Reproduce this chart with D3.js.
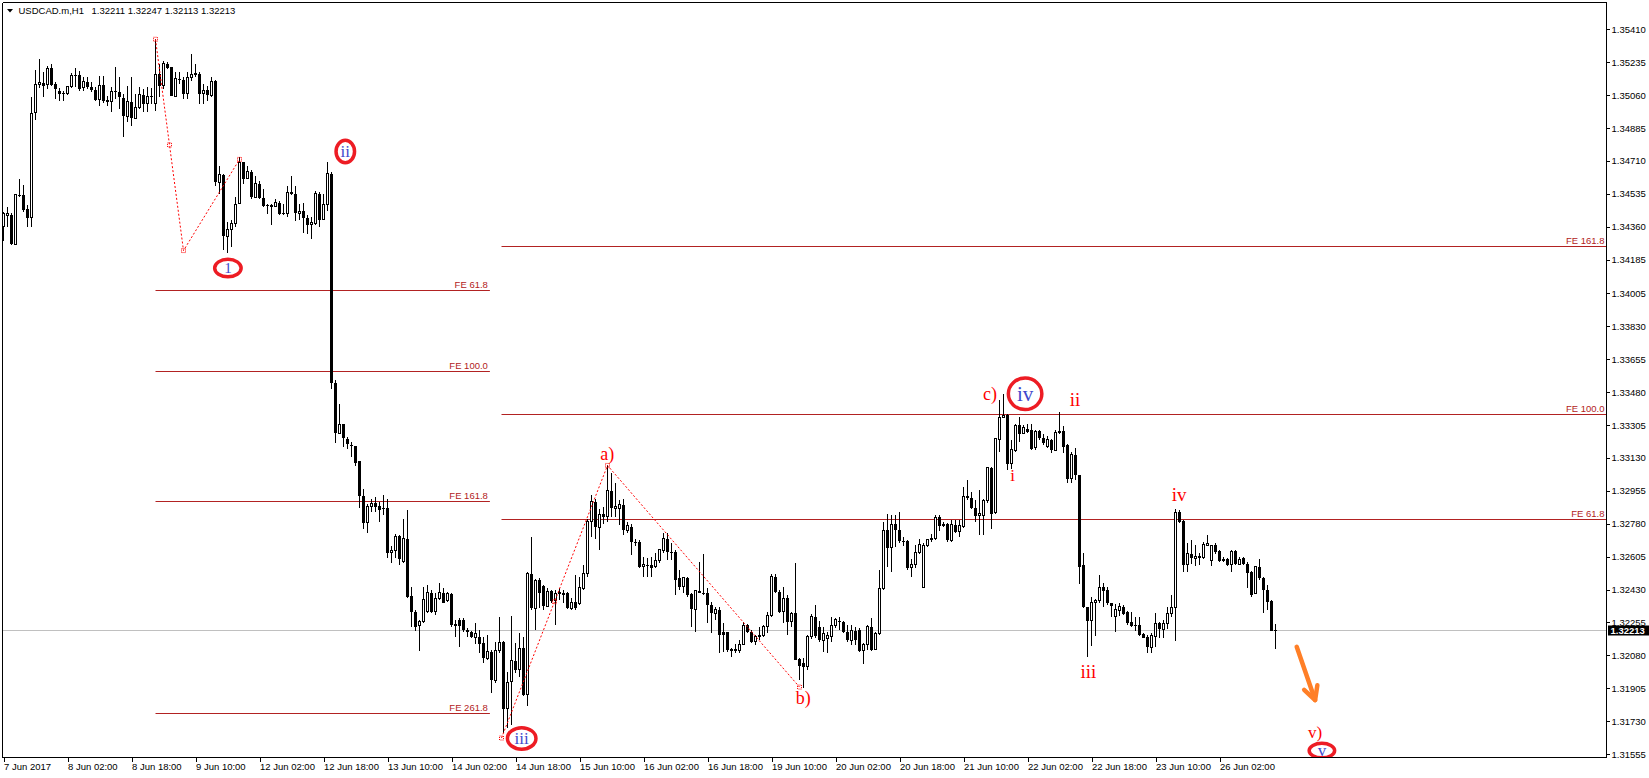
<!DOCTYPE html>
<html><head><meta charset="utf-8">
<script src="https://cdn.jsdelivr.net/npm/d3@7"></script>
<style>
body{margin:0;background:#fff;}
</style>
</head><body>
<svg id="chart" width="1649" height="778"></svg>
<script>
// ---------------- DATA ----------------
const symbolName = "USDCAD.m,H1";
const xTickIndex = [0,16,32,48,64,80,96,112,128,144,160,176,192,208,224,240,256,272,288,304];
const xTickLabels = ["7 Jun 2017","8 Jun 02:00","8 Jun 18:00","9 Jun 10:00","12 Jun 02:00","12 Jun 18:00","13 Jun 10:00","14 Jun 02:00","14 Jun 18:00","15 Jun 10:00","16 Jun 02:00","16 Jun 18:00","19 Jun 10:00","20 Jun 02:00","20 Jun 18:00","21 Jun 10:00","22 Jun 02:00","22 Jun 18:00","23 Jun 10:00","26 Jun 02:00"];
const yTickLabels = ["1.35410","1.35235","1.35060","1.34885","1.34710","1.34535","1.34360","1.34185","1.34005","1.33830","1.33655","1.33480","1.33305","1.33130","1.32955","1.32780","1.32605","1.32430","1.32255","1.32080","1.31905","1.31730","1.31555"];

const opens = [
1.34359,1.34420,1.34423,1.34264,1.34529,1.34526,1.34455,1.34407,1.34965,1.35119,
1.35124,1.35119,1.35204,1.35119,1.35083,1.35069,1.35066,1.35105,1.35166,1.35166,
1.35101,1.35131,1.35105,1.35087,1.35034,1.35115,1.35027,1.35027,1.35080,1.35078,
1.35044,1.34947,1.35025,1.34938,1.34995,1.35060,1.35013,1.35053,1.35013,1.35172,
1.35110,1.35228,1.35207,1.35053,1.35145,1.35140,1.35066,1.35151,1.35172,1.35172,
1.35066,1.35087,1.35060,1.35137,1.34597,1.34636,1.34310,1.34344,1.34375,1.34485,
1.34703,1.34618,1.34653,1.34517,1.34588,1.34513,1.34473,1.34469,1.34469,1.34487,
1.34432,1.34432,1.34543,1.34535,1.34432,1.34446,1.34407,1.34370,1.34375,1.34535,
1.34397,1.34476,1.34641,1.33528,1.33259,1.33309,1.33229,1.33198,1.33192,1.33114,
1.32927,1.32785,1.32870,1.32888,1.32874,1.32865,1.32861,1.32625,1.32640,1.32713,
1.32577,1.32701,1.32395,1.32312,1.32238,1.32259,1.32312,1.32414,1.32312,1.32383,
1.32413,1.32374,1.32404,1.32241,1.32268,1.32268,1.32215,1.32206,1.32175,1.32179,
1.32144,1.32064,1.32099,1.31946,1.32105,1.32149,1.31797,1.31940,1.32050,1.32002,
1.32117,1.31869,1.32515,1.32330,1.32480,1.32448,1.32342,1.32422,1.32370,1.32409,
1.32404,1.32413,1.32330,1.32361,1.32356,1.32436,1.32515,1.32790,1.32896,1.32760,
1.32830,1.32816,1.32953,1.32861,1.32861,1.32878,1.32746,1.32763,1.32684,1.32684,
1.32551,1.32560,1.32560,1.32551,1.32586,1.32639,1.32701,1.32630,1.32630,1.32489,
1.32445,1.32492,1.32404,1.32324,1.32420,1.32413,1.32413,1.32347,1.32303,1.32321,
1.32206,1.32202,1.32112,1.32105,1.32108,1.32140,1.32241,1.32206,1.32152,1.32179,
1.32183,1.32232,1.32294,1.32498,1.32418,1.32312,1.32383,1.32259,1.32303,1.32059,
1.32040,1.32020,1.32179,1.32285,1.32230,1.32161,1.32170,1.32182,1.32236,1.32264,
1.32259,1.32206,1.32161,1.32211,1.32214,1.32105,1.32135,1.32232,1.32112,1.32197,
1.32436,1.32745,1.32653,1.32781,1.32749,1.32687,1.32687,1.32547,1.32565,1.32625,
1.32441,1.32662,1.32698,1.32701,1.32816,1.32772,1.32781,1.32692,1.32772,1.32736,
1.32763,1.32926,1.32919,1.32866,1.32825,1.32825,1.32905,1.33078,1.32837,1.33227,
1.33347,1.33356,1.33099,1.33170,1.33306,1.33259,1.33285,1.33276,1.33184,1.33273,
1.33237,1.33191,1.33227,1.33170,1.33267,1.33271,1.33197,1.33020,1.33147,1.33037,
1.32560,1.32335,1.32264,1.32361,1.32370,1.32441,1.32427,1.32356,1.32285,1.32317,
1.32338,1.32312,1.32255,1.32237,1.32241,1.32192,1.32178,1.32122,1.32182,1.32250,
1.32218,1.32250,1.32303,1.32335,1.32843,1.32793,1.32563,1.32621,1.32595,1.32607,
1.32598,1.32666,1.32583,1.32669,1.32634,1.32583,1.32590,1.32563,1.32634,1.32565,
1.32595,1.32565,1.32524,1.32409,1.32551,1.32489,1.32430,1.32370,1.32211];

const highs = [
1.34437,1.34464,1.34432,1.34535,1.34614,1.34584,1.34473,1.35052,1.35193,1.35252,
1.35181,1.35213,1.35225,1.35128,1.35098,1.35083,1.35110,1.35175,1.35204,1.35186,
1.35154,1.35154,1.35128,1.35101,1.35163,1.35163,1.35057,1.35101,1.35211,1.35154,
1.35066,1.35110,1.35154,1.35066,1.35101,1.35092,1.35101,1.35098,1.35358,1.35225,
1.35239,1.35234,1.35211,1.35181,1.35181,1.35154,1.35181,1.35278,1.35225,1.35181,
1.35119,1.35110,1.35154,1.35142,1.34685,1.34641,1.34387,1.34393,1.34517,1.34729,
1.34706,1.34685,1.34660,1.34632,1.34605,1.34560,1.34482,1.34482,1.34508,1.34499,
1.34482,1.34574,1.34632,1.34579,1.34482,1.34485,1.34420,1.34411,1.34552,1.34543,
1.34535,1.34703,1.34650,1.33543,1.33415,1.33313,1.33242,1.33215,1.33195,1.33114,
1.32967,1.32884,1.32909,1.32923,1.32897,1.32932,1.32909,1.32660,1.32725,1.32720,
1.32807,1.32855,1.32445,1.32321,1.32268,1.32445,1.32453,1.32427,1.32409,1.32462,
1.32436,1.32418,1.32409,1.32268,1.32276,1.32276,1.32223,1.32211,1.32253,1.32215,
1.32179,1.32188,1.32108,1.32152,1.32285,1.32156,1.31993,1.32289,1.32144,1.32197,
1.32179,1.32524,1.32710,1.32484,1.32489,1.32453,1.32436,1.32427,1.32427,1.32436,
1.32427,1.32416,1.32383,1.32507,1.32498,1.32560,1.32807,1.32932,1.32914,1.32860,
1.32870,1.33091,1.33050,1.32994,1.32905,1.32914,1.32790,1.32780,1.32700,1.32692,
1.32604,1.32595,1.32604,1.32622,1.32643,1.32728,1.32728,1.32675,1.32639,1.32533,
1.32498,1.32498,1.32409,1.32427,1.32577,1.32618,1.32436,1.32365,1.32338,1.32338,
1.32250,1.32206,1.32117,1.32140,1.32161,1.32259,1.32245,1.32215,1.32188,1.32232,
1.32241,1.32312,1.32515,1.32515,1.32427,1.32445,1.32400,1.32312,1.32569,1.32064,
1.32064,1.32188,1.32300,1.32347,1.32260,1.32232,1.32206,1.32285,1.32276,1.32282,
1.32264,1.32241,1.32241,1.32232,1.32223,1.32143,1.32241,1.32276,1.32206,1.32533,
1.32790,1.32834,1.32825,1.32825,1.32843,1.32710,1.32692,1.32590,1.32666,1.32701,
1.32675,1.32701,1.32724,1.32825,1.32825,1.32790,1.32784,1.32798,1.32802,1.32798,
1.32975,1.33011,1.32949,1.32905,1.32958,1.32913,1.33082,1.33082,1.33237,1.33436,
1.33471,1.33365,1.33223,1.33312,1.33347,1.33303,1.33312,1.33312,1.33276,1.33276,
1.33259,1.33244,1.33232,1.33276,1.33374,1.33298,1.33206,1.33161,1.33184,1.33040,
1.32625,1.32338,1.32388,1.32382,1.32506,1.32466,1.32441,1.32359,1.32352,1.32356,
1.32347,1.32317,1.32312,1.32285,1.32285,1.32200,1.32188,1.32200,1.32303,1.32259,
1.32268,1.32338,1.32400,1.32860,1.32855,1.32798,1.32678,1.32692,1.32666,1.32625,
1.32683,1.32719,1.32666,1.32675,1.32639,1.32604,1.32595,1.32639,1.32639,1.32604,
1.32604,1.32577,1.32530,1.32554,1.32590,1.32498,1.32453,1.32374,1.32247];

const lows = [
1.34283,1.34359,1.34260,1.34260,1.34517,1.34437,1.34359,1.34361,1.34928,1.35098,
1.35048,1.35092,1.35110,1.35039,1.35030,1.35030,1.35062,1.35098,1.35101,1.35083,
1.35083,1.35092,1.35075,1.35030,1.35004,1.35016,1.35004,1.34968,1.35039,1.34986,
1.34839,1.34915,1.34898,1.34933,1.34986,1.34968,1.34968,1.35013,1.34974,1.35048,
1.35092,1.35198,1.35053,1.35048,1.35119,1.35039,1.35039,1.35137,1.35154,1.35013,
1.35013,1.35030,1.35052,1.34579,1.34535,1.34237,1.34220,1.34252,1.34359,1.34482,
1.34588,1.34614,1.34508,1.34513,1.34508,1.34464,1.34425,1.34370,1.34464,1.34420,
1.34423,1.34411,1.34526,1.34390,1.34393,1.34326,1.34323,1.34296,1.34367,1.34359,
1.34393,1.34446,1.33494,1.33210,1.33256,1.33189,1.33175,1.33136,1.33086,1.32861,
1.32750,1.32732,1.32844,1.32844,1.32791,1.32826,1.32600,1.32570,1.32600,1.32560,
1.32569,1.32385,1.32232,1.32211,1.32105,1.32250,1.32303,1.32303,1.32294,1.32374,
1.32356,1.32365,1.32232,1.32179,1.32126,1.32206,1.32179,1.32170,1.32140,1.32091,
1.32041,1.32055,1.31882,1.31931,1.32091,1.31666,1.31692,1.31710,1.31985,1.31967,
1.31861,1.31811,1.32321,1.32215,1.32330,1.32321,1.32338,1.32356,1.32241,1.32374,
1.32356,1.32324,1.32321,1.32321,1.32347,1.32427,1.32498,1.32710,1.32700,1.32640,
1.32780,1.32790,1.32817,1.32817,1.32772,1.32720,1.32730,1.32613,1.32660,1.32542,
1.32498,1.32498,1.32498,1.32542,1.32569,1.32622,1.32586,1.32586,1.32400,1.32427,
1.32409,1.32392,1.32232,1.32206,1.32409,1.32400,1.32250,1.32197,1.32268,1.32091,
1.32099,1.32099,1.32073,1.32090,1.32091,1.32135,1.32197,1.32144,1.32135,1.32161,
1.32179,1.32197,1.32285,1.32409,1.32303,1.32250,1.32188,1.32232,1.32055,1.31949,
1.31905,1.32002,1.32165,1.32170,1.32150,1.32100,1.32094,1.32152,1.32223,1.32214,
1.32197,1.32152,1.32135,1.32135,1.32100,1.32034,1.32108,1.32105,1.32108,1.32188,
1.32430,1.32551,1.32524,1.32657,1.32678,1.32660,1.32533,1.32494,1.32547,1.32621,
1.32436,1.32657,1.32683,1.32692,1.32742,1.32760,1.32683,1.32683,1.32728,1.32710,
1.32759,1.32905,1.32860,1.32790,1.32719,1.32719,1.32890,1.32754,1.32834,1.33161,
1.33344,1.33064,1.33073,1.33161,1.33214,1.33255,1.33262,1.33170,1.33170,1.33223,
1.33197,1.33184,1.33156,1.33167,1.33255,1.33156,1.32997,1.32997,1.33011,1.32459,
1.32329,1.32073,1.32129,1.32182,1.32356,1.32335,1.32350,1.32285,1.32206,1.32289,
1.32294,1.32241,1.32232,1.32211,1.32182,1.32170,1.32094,1.32094,1.32122,1.32170,
1.32174,1.32218,1.32285,1.32158,1.32786,1.32524,1.32524,1.32565,1.32554,1.32560,
1.32590,1.32662,1.32556,1.32618,1.32577,1.32574,1.32556,1.32524,1.32560,1.32560,
1.32560,1.32436,1.32391,1.32405,1.32480,1.32306,1.32321,1.32211,1.32113];

const closes = [
1.34432,1.34429,1.34269,1.34531,1.34522,1.34451,1.34407,1.34963,1.35119,1.35128,
1.35108,1.35204,1.35115,1.35092,1.35066,1.35066,1.35105,1.35166,1.35160,1.35092,
1.35133,1.35101,1.35087,1.35034,1.35113,1.35027,1.35030,1.35080,1.35075,1.35048,
1.34947,1.35025,1.34938,1.34995,1.35062,1.35013,1.35053,1.35048,1.35168,1.35110,
1.35230,1.35204,1.35053,1.35149,1.35140,1.35066,1.35151,1.35172,1.35175,1.35066,
1.35087,1.35060,1.35131,1.34597,1.34636,1.34310,1.34344,1.34379,1.34476,1.34699,
1.34614,1.34653,1.34517,1.34588,1.34513,1.34469,1.34469,1.34471,1.34487,1.34429,
1.34430,1.34543,1.34535,1.34432,1.34443,1.34407,1.34367,1.34384,1.34535,1.34393,
1.34476,1.34641,1.33531,1.33263,1.33309,1.33238,1.33206,1.33192,1.33104,1.32927,
1.32785,1.32874,1.32888,1.32867,1.32853,1.32861,1.32625,1.32640,1.32713,1.32590,
1.32701,1.32392,1.32312,1.32232,1.32259,1.32379,1.32414,1.32308,1.32383,1.32414,
1.32360,1.32409,1.32241,1.32245,1.32238,1.32215,1.32206,1.32175,1.32197,1.32140,
1.32064,1.32099,1.31949,1.32105,1.32149,1.31797,1.31935,1.32050,1.32002,1.32117,
1.31869,1.32515,1.32330,1.32480,1.32409,1.32342,1.32422,1.32370,1.32409,1.32416,
1.32409,1.32330,1.32361,1.32330,1.32441,1.32515,1.32790,1.32896,1.32760,1.32830,
1.32817,1.32958,1.32861,1.32870,1.32884,1.32746,1.32768,1.32684,1.32680,1.32551,
1.32563,1.32556,1.32547,1.32586,1.32643,1.32701,1.32630,1.32625,1.32480,1.32445,
1.32492,1.32400,1.32324,1.32427,1.32413,1.32410,1.32347,1.32303,1.32321,1.32188,
1.32188,1.32108,1.32105,1.32112,1.32140,1.32241,1.32206,1.32152,1.32179,1.32188,
1.32232,1.32294,1.32498,1.32418,1.32312,1.32383,1.32259,1.32303,1.32055,1.32023,
1.32020,1.32179,1.32285,1.32183,1.32161,1.32197,1.32188,1.32241,1.32268,1.32259,
1.32206,1.32161,1.32211,1.32161,1.32105,1.32140,1.32232,1.32108,1.32197,1.32436,
1.32745,1.32653,1.32775,1.32745,1.32687,1.32683,1.32547,1.32565,1.32625,1.32671,
1.32666,1.32698,1.32701,1.32813,1.32768,1.32777,1.32692,1.32777,1.32736,1.32768,
1.32926,1.32919,1.32866,1.32820,1.32834,1.32905,1.33078,1.32830,1.33232,1.33347,
1.33356,1.33099,1.33174,1.33303,1.33259,1.33294,1.33267,1.33179,1.33273,1.33237,
1.33209,1.33227,1.33170,1.33267,1.33271,1.33188,1.33020,1.33147,1.33037,1.32551,
1.32335,1.32264,1.32361,1.32374,1.32441,1.32423,1.32356,1.32343,1.32326,1.32338,
1.32298,1.32253,1.32237,1.32241,1.32188,1.32174,1.32122,1.32188,1.32250,1.32218,
1.32250,1.32303,1.32335,1.32837,1.32790,1.32563,1.32621,1.32595,1.32604,1.32598,
1.32669,1.32675,1.32662,1.32630,1.32583,1.32590,1.32563,1.32634,1.32565,1.32591,
1.32565,1.32519,1.32400,1.32551,1.32489,1.32430,1.32365,1.32211,1.32213];

// Fibonacci expansion tools: anchor points [bar index, price]
const feRatios = [61.8, 100, 161.8, 261.8];
const feLeftAnchors  = [[38, 1.35357], [45, 1.34233], [59, 1.34718]];
const feLeftEnd = 121.6;
const feRightAnchors = [[124.5, 1.31640], [151, 1.33090], [199, 1.31911]];

// Elliott wave labels (bar index, price)
const circledTags  = ["1", "ii", "iii", "iv", "v"];
const circledIndex = [56.1, 85.45, 129.55, 255.4, 329.6];
const circledPrice = [1.34140, 1.34760, 1.31638, 1.33471, 1.31573];

const redTags  = ["a)", "b)", "c)", "i", "ii", "iii", "iv", "v)"];
const redIndex = [150.95, 199.95, 246.6, 252.3, 267.9, 271.2, 293.9, 327.9];
const redPrice = [1.33153, 1.31851, 1.33471, 1.33037, 1.33440, 1.31992, 1.32935, 1.31670];

const arrowFrom = [323.3, 1.32125];
const arrowTo   = [327.9, 1.31842];

// ---------------- STYLE ----------------
const W = 1649, H = 778;
const plotL = 2.5, plotT = 2.5, plotR = 1606.5, plotB = 757.5;
const FONT = '"Liberation Sans", Arial, sans-serif';
const SERIF = '"Liberation Serif", "Times New Roman", "DejaVu Serif", serif';
const feColor = "#b22222";
const ringColor = "#ed1c24";
const ringRx = [15, 11, 16, 18.5, 14.5];
const ringRy = [10.5, 13, 12.5, 17.5, 9];
const ringFont = [15, 17, 17, 21, 17];
const redFont = [18, 18, 18, 17, 19, 19, 19, 17];

// ---------------- SCALES ----------------
const x = d3.scaleLinear().domain([0, 400]).range([3.5, 1603.5]);
const y = d3.scaleLinear().domain([1.31555, 1.35410]).range([754, 29.3]);

const svg = d3.select("#chart");
svg.append("rect").attr("width", W).attr("height", H).attr("fill", "#fff");

svg.append("defs").append("clipPath").attr("id", "plotclip")
  .append("rect").attr("x", plotL).attr("y", plotT).attr("width", plotR - plotL).attr("height", plotB - plotT);

const plot = svg.append("g").attr("clip-path", "url(#plotclip)");

const bars = d3.range(opens.length).map(i => ({i, o: opens[i], h: highs[i], l: lows[i], c: closes[i]}));

// current price line (bid)
const lastClose = closes[closes.length - 1];
plot.append("line").attr("x1", plotL).attr("x2", plotR)
  .attr("y1", Math.round(y(lastClose)) + 0.5).attr("y2", Math.round(y(lastClose)) + 0.5)
  .attr("stroke", "#c0c0c0").attr("stroke-width", 1);

// FE levels
function drawFE(anchors, endIdx) {
  const [a, b, c] = anchors;
  const x1 = x(a[0]);
  const x2 = endIdx == null ? plotR : x(endIdx);
  feRatios.forEach(r => {
    const p = c[1] + (b[1] - a[1]) * r / 100;
    const yy = Math.round(y(p)) + 0.5;
    if (yy < plotT + 12 || yy > plotB) return;   // level outside the visible price range
    plot.append("line").attr("x1", x1).attr("x2", x2).attr("y1", yy).attr("y2", yy)
      .attr("stroke", feColor).attr("stroke-width", 1);
    plot.append("text").attr("x", x2 - 2).attr("y", yy - 3).attr("text-anchor", "end")
      .style("font-size", "9.5px").style("font-family", FONT).attr("fill", feColor)
      .text("FE " + r.toFixed(1));
  });
}
drawFE(feLeftAnchors, feLeftEnd);
drawFE(feRightAnchors, null);

// candles
const cg = plot.append("g").attr("shape-rendering", "crispEdges");
cg.selectAll("line.wick").data(bars).join("line").attr("class", "wick")
  .attr("x1", d => x(d.i)).attr("x2", d => x(d.i))
  .attr("y1", d => y(Math.max(d.h, d.o, d.c))).attr("y2", d => y(Math.min(d.l, d.o, d.c)))
  .attr("stroke", "#000").attr("stroke-width", 1);
cg.selectAll("rect.up").data(bars.filter(d => d.c >= d.o)).join("rect").attr("class", "up")
  .attr("x", d => x(d.i) - 1).attr("width", 2)
  .attr("y", d => y(d.c)).attr("height", d => Math.max(0.01, y(d.o) - y(d.c)))
  .attr("fill", "#fff").attr("stroke", "#000").attr("stroke-width", 1);
cg.selectAll("rect.dn").data(bars.filter(d => d.c < d.o)).join("rect").attr("class", "dn")
  .attr("x", d => x(d.i) - 1.5).attr("width", 3)
  .attr("y", d => y(d.o)).attr("height", d => Math.max(1, y(d.c) - y(d.o)))
  .attr("fill", "#000");

// zigzag dotted lines of the FE tools
const zz = d3.line().x(d => x(d[0])).y(d => y(d[1]));
[feLeftAnchors, feRightAnchors].forEach(anc => {
  plot.append("path").attr("d", zz(anc)).attr("fill", "none")
    .attr("stroke", "#ff0000").attr("stroke-width", 1).attr("stroke-dasharray", "2,2");
  const pts = anc.concat([[(anc[0][0] + anc[1][0]) / 2, (anc[0][1] + anc[1][1]) / 2]]);
  pts.forEach(p => {
    plot.append("rect").attr("x", x(p[0]) - 2).attr("y", y(p[1]) - 2).attr("width", 4).attr("height", 4)
      .attr("fill", "none").attr("stroke", "#ff0000").attr("stroke-width", 1).attr("stroke-dasharray", "1,1");
  });
});

// circled wave labels
const ann = plot.append("g");
circledTags.forEach((t, k) => {
  const cx = x(circledIndex[k]), cy = y(circledPrice[k]);
  ann.append("ellipse").attr("cx", cx).attr("cy", cy)
    .attr("rx", ringRx[k] - 1.75).attr("ry", ringRy[k] - 1.75)
    .attr("fill", "none").attr("stroke", ringColor).attr("stroke-width", 3.5);
  ann.append("text").attr("x", cx).attr("y", cy).attr("text-anchor", "middle")
    .attr("dominant-baseline", "central").style("font-family", SERIF)
    .style("font-size", ringFont[k] + "px").attr("fill", "#3f48cc").text(t);
});

// red wave labels
redTags.forEach((t, k) => {
  ann.append("text").attr("x", x(redIndex[k])).attr("y", y(redPrice[k]))
    .attr("text-anchor", "middle").attr("dominant-baseline", "central")
    .style("font-family", SERIF).style("font-size", redFont[k] + "px").attr("fill", "#ff0000").text(t);
});

// orange arrow
{
  const x1 = x(arrowFrom[0]), y1 = y(arrowFrom[1]), x2 = x(arrowTo[0]), y2 = y(arrowTo[1]);
  const ang = Math.atan2(y2 - y1, x2 - x1);
  const len = 15, spread = Math.PI / 6.5;
  const a1 = [x2 - len * Math.cos(ang - spread), y2 - len * Math.sin(ang - spread)];
  const a2 = [x2 - len * Math.cos(ang + spread), y2 - len * Math.sin(ang + spread)];
  const st = {stroke: "#ff7f27", "stroke-width": 4.5, "stroke-linecap": "round", "stroke-linejoin": "round", fill: "none"};
  const p1 = ann.append("path").attr("d", `M${x1},${y1}L${x2},${y2}`);
  const p2 = ann.append("path").attr("d", `M${a1[0]},${a1[1]}L${x2},${y2}L${a2[0]},${a2[1]}`);
  [p1, p2].forEach(p => Object.entries(st).forEach(([k, v]) => p.attr(k, v)));
}

// frame
const fr = svg.append("g").attr("stroke", "#000").attr("stroke-width", 1).attr("shape-rendering", "crispEdges");
fr.append("line").attr("x1", plotL).attr("x2", plotR).attr("y1", plotT).attr("y2", plotT);
fr.append("line").attr("x1", plotL).attr("x2", plotL).attr("y1", plotT).attr("y2", plotB);
fr.append("line").attr("x1", plotR).attr("x2", plotR).attr("y1", plotT).attr("y2", plotB);
fr.append("line").attr("x1", plotL).attr("x2", plotR).attr("y1", plotB).attr("y2", plotB);

// axes
const gx = svg.append("g").attr("transform", `translate(0,${plotB})`)
  .call(d3.axisBottom(x).tickValues(xTickIndex).tickFormat((d, k) => xTickLabels[k])
    .tickSizeInner(4).tickSizeOuter(0).tickPadding(2));
gx.select(".domain").remove();
gx.selectAll("line").attr("stroke", "#000").attr("shape-rendering", "crispEdges");
gx.selectAll("text").attr("text-anchor", "start").style("font-size", "9.5px").style("font-family", FONT).attr("fill", "#000");

const yTickVals = yTickLabels.map(Number);
const gy = svg.append("g").attr("transform", `translate(${plotR},0)`)
  .call(d3.axisRight(y).tickValues(yTickVals).tickFormat((d, k) => yTickLabels[k])
    .tickSizeInner(3).tickSizeOuter(0).tickPadding(2));
gy.select(".domain").remove();
gy.selectAll("line").attr("stroke", "#000").attr("shape-rendering", "crispEdges");
gy.selectAll("text").style("font-size", "9.5px").style("font-family", FONT).attr("fill", "#000");

// current price tag
const ly = Math.round(y(lastClose)) + 0.5;
svg.append("rect").attr("x", plotR + 1.5).attr("y", ly - 5).attr("width", 41).attr("height", 10).attr("fill", "#000");
svg.append("text").attr("x", plotR + 4).attr("y", ly).attr("dominant-baseline", "central")
  .style("font-size", "9.5px").style("font-family", FONT).attr("fill", "#fff").attr("font-weight", "bold")
  .text(lastClose.toFixed(5));

// header
svg.append("path").attr("d", "M7,9 L13,9 L10,12.5 Z").attr("fill", "#000");
const last = bars[bars.length - 1];
svg.append("text").attr("x", 18.5).attr("y", 14).style("font-size", "9.5px").style("font-family", FONT)
  .attr("fill", "#000").text(symbolName);
svg.append("text").attr("x", 91.5).attr("y", 14).style("font-size", "9.5px").style("font-family", FONT)
  .attr("fill", "#000").text([last.o, last.h, last.l, last.c].map(v => v.toFixed(5)).join(" "));
</script>
</body></html>
